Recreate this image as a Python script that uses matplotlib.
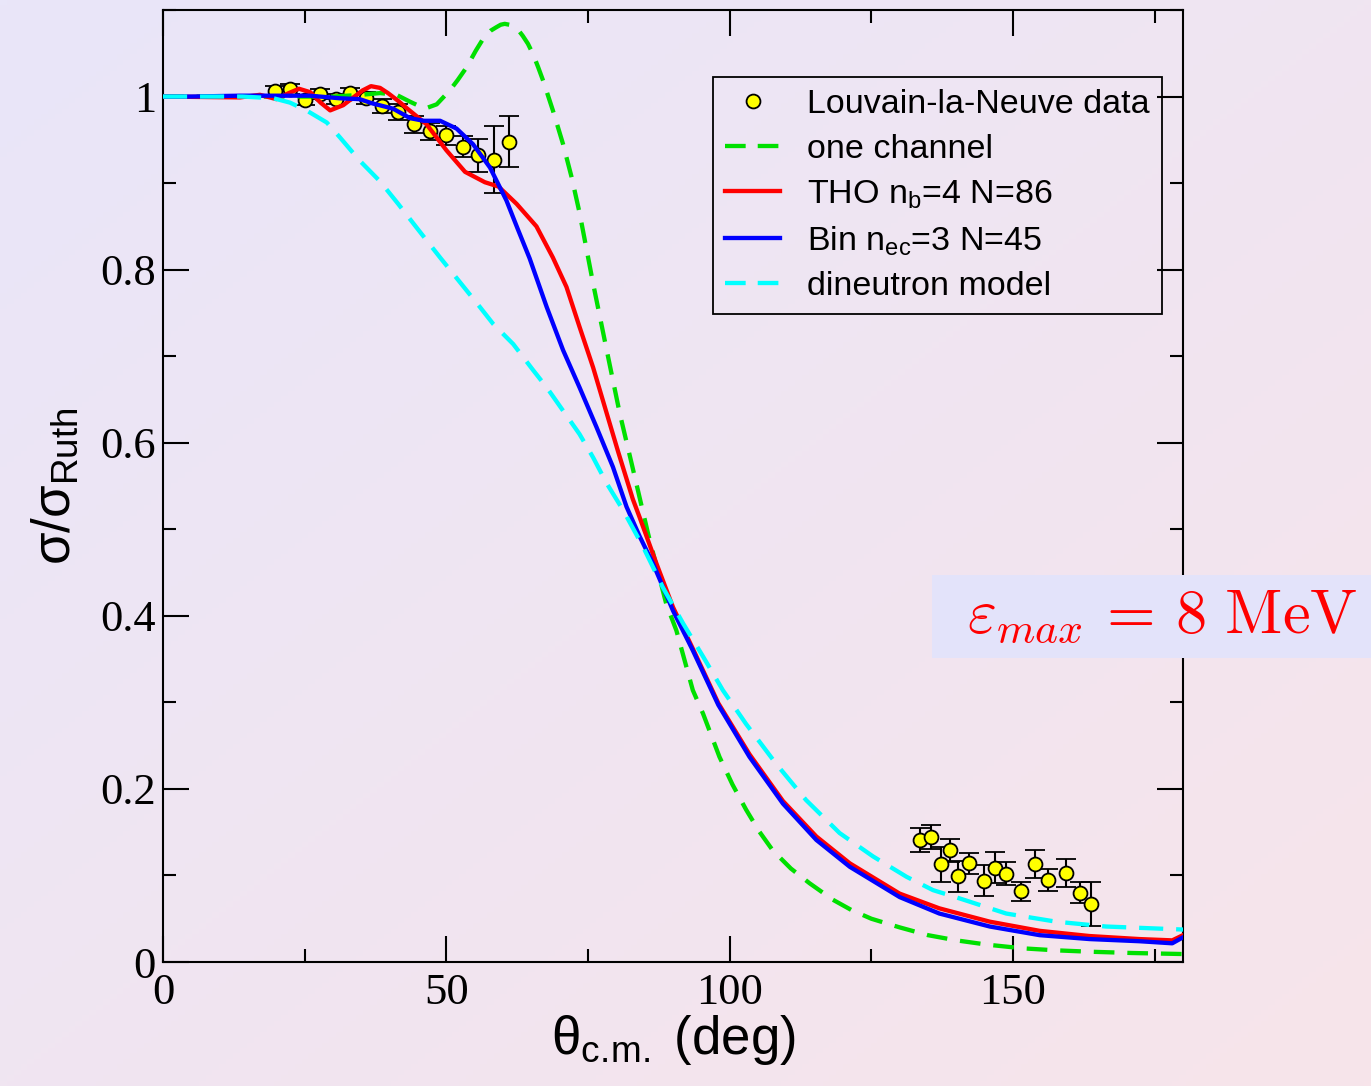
import numpy as np
import matplotlib
matplotlib.use("Agg")
import matplotlib.pyplot as plt
from matplotlib.patches import Rectangle
from matplotlib.lines import Line2D
from matplotlib.ticker import MultipleLocator

plt.rcParams['mathtext.fontset'] = 'custom'
plt.rcParams['mathtext.rm'] = 'Liberation Sans'
plt.rcParams['mathtext.it'] = 'Liberation Sans:italic'
plt.rcParams['mathtext.bf'] = 'Liberation Sans:bold'

# Louvain-la-Neuve data (forward + backward angles)
data_theta = [19.75, 22.4, 25.0, 27.7, 30.5, 33.0, 35.9, 38.7, 41.5, 44.3, 47.2, 50.0,
              52.9, 55.6, 58.4, 61.0,
              133.6, 135.6, 137.3, 138.8, 140.3, 142.3, 144.9, 146.9, 148.7, 151.4,
              153.9, 156.1, 159.4, 161.9, 163.7]
data_ratio = [1.006, 1.009, 0.996, 1.003, 0.997, 1.004, 0.998, 0.989, 0.982, 0.968, 0.960, 0.955,
              0.942, 0.932, 0.927, 0.948,
              0.141, 0.144, 0.113, 0.129, 0.099, 0.114, 0.094, 0.109, 0.102, 0.082,
              0.113, 0.095, 0.103, 0.080, 0.067]
data_err = [0.006, 0.006, 0.006, 0.006, 0.006, 0.006, 0.007, 0.008, 0.009, 0.010, 0.010, 0.011,
            0.012, 0.019, 0.039, 0.029,
            0.0135, 0.014, 0.020, 0.013, 0.018, 0.012, 0.018, 0.018, 0.013, 0.011,
            0.016, 0.013, 0.016, 0.012, 0.025]

# one channel
one_theta = [0, 30, 35, 38.3, 41.2, 43.6, 46.2, 48.3, 50.6, 52.0, 53.6, 55.2, 56.8, 57.8,
             58.8, 59.6, 60.3, 61.1, 62.0, 62.8, 63.5, 64.4, 65.3, 66.2, 67.1,
             68.8, 70.6, 72.1, 73.5, 75.9, 78.3, 80.6, 82.7, 85.6, 88.8, 90.6, 93.5, 95.3, 98.2,
             100.5, 102.9, 105.2, 107.6, 110.8, 114.1, 118.2, 121.5, 125, 130, 135, 140, 145.5,
             151.7, 157.5, 163.5, 171, 180]
one_ratio = [1.0, 1.0, 1.002, 1.004, 1.002, 0.994, 0.986, 0.991, 1.007, 1.019, 1.034, 1.053,
             1.070, 1.076, 1.080, 1.083, 1.084, 1.083, 1.080, 1.076, 1.070, 1.061, 1.049, 1.034,
             1.018, 0.984, 0.945, 0.907, 0.866, 0.784, 0.707, 0.634, 0.576, 0.495,
             0.414, 0.383, 0.314, 0.287, 0.237, 0.205, 0.176, 0.151, 0.129, 0.108, 0.091, 0.072,
             0.060, 0.050, 0.040, 0.031, 0.025, 0.020, 0.0158, 0.0135, 0.0119, 0.0104, 0.0092]

# THO nb=4 N=86
tho_theta = [0, 13.6, 17.1, 20, 22.2, 24, 26, 27.8, 29.5, 31.8, 33.6, 35.2, 36.7, 38.3, 39.7,
             41.5, 43.3, 46.5, 50, 53.3, 56.8, 59.2, 62.4, 65.9, 68.8, 71.2, 73.5, 75.9, 78.3,
             80.3, 82.9, 84.1, 87.1, 90, 93.5, 98, 103.5, 109.4, 115.3, 121.2, 130, 137, 145.9,
             154.7, 163.5, 172.3, 178.1, 180]
tho_ratio = [1.0, 0.999, 1.002, 0.997, 1.004, 1.009, 1.005, 0.993, 0.984, 0.990, 0.999, 1.007,
             1.012, 1.010, 1.004, 0.995, 0.985, 0.968, 0.938, 0.913, 0.901, 0.896, 0.876, 0.850,
             0.814, 0.780, 0.734, 0.687, 0.634, 0.590, 0.535, 0.514, 0.460, 0.410, 0.362, 0.299,
             0.240, 0.186, 0.145, 0.114, 0.079, 0.062, 0.0466, 0.036, 0.030, 0.0265, 0.025, 0.031]

# Bin nec=3 N=45
bin_theta = [0, 5, 13.6, 20, 25.9, 31.2, 34.7, 37, 40.6, 43.6, 46, 48.9, 51.8, 54.7, 57.7,
             60.6, 62.6, 64.7, 67.7, 70.6, 73.5, 76.5, 79.4, 81.8, 84.1, 86.5, 90, 93.5, 98,
             103.5, 109.4, 115.3, 121.2, 130, 137, 145.9, 154.7, 163.5, 172.3, 178.1, 180]
bin_ratio = [1.0, 1.0, 1.001, 1.001, 1.001, 0.998, 0.997, 0.992, 0.986, 0.975, 0.972, 0.972,
             0.963, 0.945, 0.918, 0.880, 0.847, 0.813, 0.757, 0.707, 0.664, 0.618, 0.572, 0.526,
             0.492, 0.460, 0.406, 0.360, 0.297, 0.237, 0.183, 0.141, 0.110, 0.075, 0.056, 0.041,
             0.031, 0.0265, 0.024, 0.0216, 0.0285]

# dineutron model
din_theta = [0, 14, 19.5, 22.4, 25.3, 28.9, 31.2, 34.7, 38.3, 41.5, 44.7, 48.9, 55.9, 58.3,
             61.8, 65.3, 67.7, 70.6, 73.5, 75.9, 78.3, 81.2, 84.7, 88.2, 91.8, 95.3, 98.8,
             102.9, 108.2, 113.5, 119.4, 125.3, 131.2, 135.9, 140, 148.8, 157.6, 166.4, 180]
din_ratio = [1.0, 1.0, 0.998, 0.993, 0.984, 0.970, 0.953, 0.926, 0.902, 0.876, 0.849, 0.814,
             0.757, 0.737, 0.714, 0.684, 0.664, 0.637, 0.610, 0.583, 0.553, 0.522, 0.480, 0.433,
             0.391, 0.353, 0.314, 0.275, 0.229, 0.187, 0.149, 0.122, 0.0985, 0.083, 0.0747,
             0.056, 0.0466, 0.041, 0.0375]

fig = plt.figure(figsize=(13.71, 10.86), dpi=100)

# gradient background
bg = fig.add_axes([0, 0, 1, 1], zorder=-10)
c1 = np.array([233, 230, 249]) / 255.0
c2 = np.array([247, 228, 234]) / 255.0
gx, gy = np.meshgrid(np.linspace(0, 1, 200), np.linspace(0, 1, 200))
t = (gx + gy) / 2
img = c1[None, None, :] * (1 - t[..., None]) + c2[None, None, :] * t[..., None]
bg.imshow(img, aspect='auto', extent=[0, 1, 0, 1], origin='upper')
bg.axis('off')

ax = fig.add_axes([163 / 1371, 124 / 1086, 1020 / 1371, 952 / 1086])
ax.set_facecolor('none')

lw = 3.1
ax.plot(one_theta, one_ratio, color='#00e000', lw=lw, dashes=(4.8, 3.0), zorder=3)
ax.plot(tho_theta, tho_ratio, color='#ff0000', lw=lw, zorder=4)
ax.plot(bin_theta, bin_ratio, color='#0000ff', lw=lw, zorder=5)
ax.plot(din_theta, din_ratio, color='#00ffff', lw=lw, dashes=(5.6, 3.0), zorder=6)
ax.errorbar(data_theta, data_ratio, yerr=data_err, fmt='o', color='black', ecolor='black',
            elinewidth=1.5, capsize=7, capthick=1.5, markersize=10, markerfacecolor='#ffff00',
            markeredgecolor='black', markeredgewidth=1.3, zorder=2)

ax.set_xlim(0, 180)
ax.set_ylim(0, 1.1)
ax.xaxis.set_major_locator(MultipleLocator(50))
ax.xaxis.set_minor_locator(MultipleLocator(25))
ax.yaxis.set_minor_locator(MultipleLocator(0.1))
ax.set_yticks([0, 0.2, 0.4, 0.6, 0.8, 1.0])
ax.set_yticklabels(['0', '0.2', '0.4', '0.6', '0.8', '1'])
ax.tick_params(which='both', direction='in', top=True, right=True, width=1.5)
ax.tick_params(which='major', length=18.5)
ax.tick_params(which='minor', length=9.5)
ax.tick_params(axis='x', pad=8)
ax.tick_params(axis='y', pad=5)
for lab in ax.get_xticklabels() + ax.get_yticklabels():
    lab.set_fontfamily('Liberation Serif')
    lab.set_fontsize(32)
for s in ax.spines.values():
    s.set_linewidth(1.5)

ax.set_xlabel(r'θ$_{\rm c.\!m.}$ (deg)', fontsize=38, family='Liberation Sans', labelpad=0)
ax.set_ylabel(r'σ/σ$_{\rm Ruth}$', fontsize=38, family='Liberation Sans', labelpad=14)

handles = [
    Line2D([], [], ls='none', marker='o', markersize=10, markerfacecolor='#ffff00',
           markeredgecolor='black', markeredgewidth=1.3),
    Line2D([], [], color='#00e000', lw=lw, dashes=(4.8, 2.8)),
    Line2D([], [], color='#ff0000', lw=lw),
    Line2D([], [], color='#0000ff', lw=lw),
    Line2D([], [], color='#00ffff', lw=lw, dashes=(4.8, 2.8)),
]
labels = ['Louvain-la-Neuve data', 'one channel', r'THO n$_{\rm b}$=4 N=86',
          r'Bin n$_{\rm ec}$=3 N=45', 'dineutron model']
leg = ax.legend(handles, labels, loc='upper right', bbox_to_anchor=(0.979, 0.9296), borderaxespad=0,
                fancybox=False, facecolor='none', edgecolor='black',
                prop={'family': 'Liberation Sans', 'size': 24.5},
                handlelength=1.6, handletextpad=0.8, labelspacing=0.4, borderpad=0.35)
leg.get_frame().set_linewidth(1.3)
leg.get_frame().set_alpha(None)

# annotation box
fig.patches.append(Rectangle((932 / 1371, (1086 - 658) / 1086), 460 / 1371, 83 / 1086,
                             transform=fig.transFigure, facecolor='#e3e3fa', edgecolor='none', zorder=5))
fig.text(1162 / 1371, (1086 - 615) / 1086, r'$\varepsilon_{max}\,=\,8\ \mathrm{MeV}$', color='red',
         fontsize=45, math_fontfamily='cm', ha='center', va='center', zorder=6)

fig.savefig('out.png', dpi=100)
